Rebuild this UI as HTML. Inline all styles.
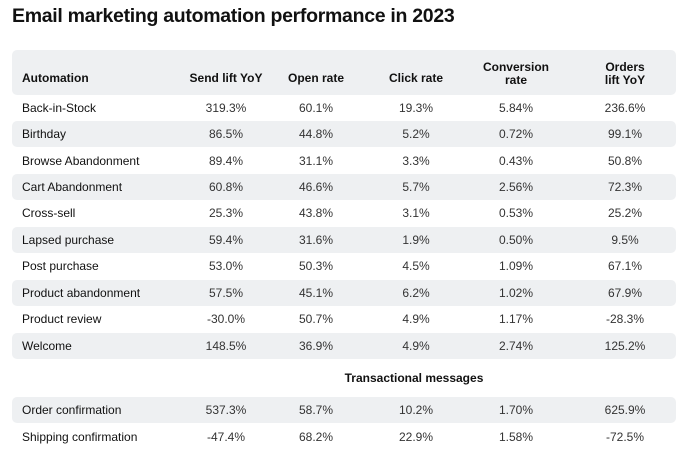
<!DOCTYPE html>
<html><head><style>
body{margin:0;width:689px;height:465px;background:#fff;font-family:"Liberation Sans",sans-serif;color:#1a1a1a;position:relative;overflow:hidden}
.t{position:absolute;left:12px;top:5px;font-size:19.5px;font-weight:bold;letter-spacing:-0.3px;color:#111}
.bg{position:absolute;left:12px;width:664px;background:#eef0f2;border-radius:5px}
.r{position:absolute;left:0;width:689px;height:26px;font-size:12px;line-height:26px}
.r span{position:absolute;text-align:center;width:100px;color:#333}
.r span.l{left:22px;text-align:left;width:200px;color:#111}
.c1{left:176px}.c2{left:266px}.c3{left:366px}.c4{left:466px}.c5{left:575px}
.h span{font-weight:bold;color:#111;line-height:13px}
</style></head><body>
<div class="t">Email marketing automation performance in 2023</div>
<div class="bg" style="top:50px;height:45px"></div>
<div class="bg" style="top:121px;height:26px"></div>
<div class="bg" style="top:174px;height:26px"></div>
<div class="bg" style="top:227px;height:26px"></div>
<div class="bg" style="top:280px;height:26px"></div>
<div class="bg" style="top:333px;height:26px"></div>
<div class="bg" style="top:397px;height:26px"></div>
<div class="r h" style="top:60px;height:36px">
<span class="l" style="top:12px">Automation</span><span class="c1" style="top:12px">Send lift YoY</span><span class="c2" style="top:12px">Open rate</span><span class="c3" style="top:12px">Click rate</span><span class="c4" style="top:1px">Conversion<br>rate</span><span class="c5" style="top:1px">Orders<br>lift YoY</span></div>
<div class="r" style="top:95px"><span class="l">Back-in-Stock</span><span class="c1">319.3%</span><span class="c2">60.1%</span><span class="c3">19.3%</span><span class="c4">5.84%</span><span class="c5">236.6%</span></div>
<div class="r" style="top:121px"><span class="l">Birthday</span><span class="c1">86.5%</span><span class="c2">44.8%</span><span class="c3">5.2%</span><span class="c4">0.72%</span><span class="c5">99.1%</span></div>
<div class="r" style="top:148px"><span class="l">Browse Abandonment</span><span class="c1">89.4%</span><span class="c2">31.1%</span><span class="c3">3.3%</span><span class="c4">0.43%</span><span class="c5">50.8%</span></div>
<div class="r" style="top:174px"><span class="l">Cart Abandonment</span><span class="c1">60.8%</span><span class="c2">46.6%</span><span class="c3">5.7%</span><span class="c4">2.56%</span><span class="c5">72.3%</span></div>
<div class="r" style="top:200px"><span class="l">Cross-sell</span><span class="c1">25.3%</span><span class="c2">43.8%</span><span class="c3">3.1%</span><span class="c4">0.53%</span><span class="c5">25.2%</span></div>
<div class="r" style="top:227px"><span class="l">Lapsed purchase</span><span class="c1">59.4%</span><span class="c2">31.6%</span><span class="c3">1.9%</span><span class="c4">0.50%</span><span class="c5">9.5%</span></div>
<div class="r" style="top:253px"><span class="l">Post purchase</span><span class="c1">53.0%</span><span class="c2">50.3%</span><span class="c3">4.5%</span><span class="c4">1.09%</span><span class="c5">67.1%</span></div>
<div class="r" style="top:280px"><span class="l">Product abandonment</span><span class="c1">57.5%</span><span class="c2">45.1%</span><span class="c3">6.2%</span><span class="c4">1.02%</span><span class="c5">67.9%</span></div>
<div class="r" style="top:306px"><span class="l">Product review</span><span class="c1">-30.0%</span><span class="c2">50.7%</span><span class="c3">4.9%</span><span class="c4">1.17%</span><span class="c5">-28.3%</span></div>
<div class="r" style="top:333px"><span class="l">Welcome</span><span class="c1">148.5%</span><span class="c2">36.9%</span><span class="c3">4.9%</span><span class="c4">2.74%</span><span class="c5">125.2%</span></div>
<div class="r" style="top:365px"><span style="left:314px;width:200px;font-weight:bold;color:#111;text-align:center">Transactional messages</span></div>
<div class="r" style="top:397px"><span class="l">Order confirmation</span><span class="c1">537.3%</span><span class="c2">58.7%</span><span class="c3">10.2%</span><span class="c4">1.70%</span><span class="c5">625.9%</span></div>
<div class="r" style="top:424px"><span class="l">Shipping confirmation</span><span class="c1">-47.4%</span><span class="c2">68.2%</span><span class="c3">22.9%</span><span class="c4">1.58%</span><span class="c5">-72.5%</span></div>
</body></html>
